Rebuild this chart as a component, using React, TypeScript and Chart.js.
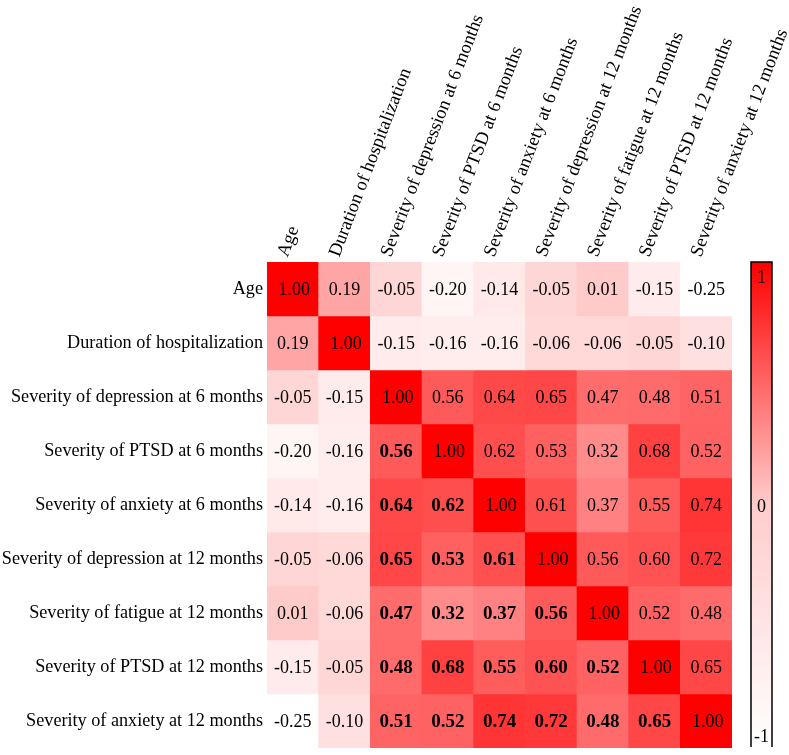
import React, { useEffect, useRef } from "react";
import { Chart, registerables } from "chart.js";

Chart.register(...registerables);

const variables = [
  "Age",
  "Duration of hospitalization",
  "Severity of depression at 6 months",
  "Severity of PTSD at 6 months",
  "Severity of anxiety at 6 months",
  "Severity of depression at 12 months",
  "Severity of fatigue at 12 months",
  "Severity of PTSD at 12 months",
  "Severity of anxiety at 12 months",
];

const rowAge = [1.0, 0.19, -0.05, -0.2, -0.14, -0.05, 0.01, -0.15, -0.25];
const rowDuration = [0.19, 1.0, -0.15, -0.16, -0.16, -0.06, -0.06, -0.05, -0.1];
const rowDep6 = [-0.05, -0.15, 1.0, 0.56, 0.64, 0.65, 0.47, 0.48, 0.51];
const rowPtsd6 = [-0.2, -0.16, 0.56, 1.0, 0.62, 0.53, 0.32, 0.68, 0.52];
const rowAnx6 = [-0.14, -0.16, 0.64, 0.62, 1.0, 0.61, 0.37, 0.55, 0.74];
const rowDep12 = [-0.05, -0.06, 0.65, 0.53, 0.61, 1.0, 0.56, 0.6, 0.72];
const rowFat12 = [0.01, -0.06, 0.47, 0.32, 0.37, 0.56, 1.0, 0.52, 0.48];
const rowPtsd12 = [-0.15, -0.05, 0.48, 0.68, 0.55, 0.6, 0.52, 1.0, 0.65];
const rowAnx12 = [-0.25, -0.1, 0.51, 0.52, 0.74, 0.72, 0.48, 0.65, 1.0];

const matrix = [rowAge, rowDuration, rowDep6, rowPtsd6, rowAnx6, rowDep12, rowFat12, rowPtsd12, rowAnx12];

// 1 = value printed in bold (significant)
const boldAge = [0, 0, 0, 0, 0, 0, 0, 0, 0];
const boldDuration = [0, 0, 0, 0, 0, 0, 0, 0, 0];
const boldDep6 = [0, 0, 0, 0, 0, 0, 0, 0, 0];
const boldPtsd6 = [0, 0, 1, 0, 0, 0, 0, 0, 0];
const boldAnx6 = [0, 0, 1, 1, 0, 0, 0, 0, 0];
const boldDep12 = [0, 0, 1, 1, 1, 0, 0, 0, 0];
const boldFat12 = [0, 0, 1, 1, 1, 1, 0, 0, 0];
const boldPtsd12 = [0, 0, 1, 1, 1, 1, 1, 0, 0];
const boldAnx12 = [0, 0, 1, 1, 1, 1, 1, 1, 0];
const boldMatrix = [boldAge, boldDuration, boldDep6, boldPtsd6, boldAnx6, boldDep12, boldFat12, boldPtsd12, boldAnx12];

const colorMin = -0.25;
const colorMax = 1;
const colorbarTicks = [1, 0, -1];

const FONT = '"Liberation Serif", "Times New Roman", serif';

function cellColor(v: number) {
  let t = (v - colorMin) / (colorMax - colorMin);
  t = Math.max(0, Math.min(1, t));
  const c = Math.round(255 * (1 - t));
  return `rgb(255,${c},${c})`;
}

const cellTextPlugin = {
  id: "cellText",
  afterDatasetsDraw(chart: any) {
    const ctx = chart.ctx;
    ctx.save();
    ctx.textAlign = "center";
    ctx.textBaseline = "middle";
    ctx.fillStyle = "#000";
    matrix.forEach((row, r) => {
      const meta = chart.getDatasetMeta(r);
      row.forEach((v, c) => {
        const el = meta.data[c];
        const p = el.getProps(["x", "y", "base"], true);
        const y = (p.y + p.base) / 2;
        const b = boldMatrix[r][c];
        ctx.font = `${b ? "bold 19px" : "18px"} ${FONT}`;
        ctx.fillText(v.toFixed(2), p.x + (r === c ? 1.5 : 0), y + 1);
      });
    });
    ctx.restore();
  },
};

const colorbarPlugin = {
  id: "colorbar",
  afterDraw(chart: any) {
    const ctx = chart.ctx;
    const area = chart.chartArea;
    const left = area.right + 19;
    const width = 21;
    const top = area.top;
    const bottom = area.bottom - 1;
    const h = bottom - top;
    ctx.save();
    const grad = ctx.createLinearGradient(0, top, 0, bottom);
    grad.addColorStop(0, cellColor(colorbarTicks[0]));
    grad.addColorStop(0.5, cellColor(colorbarTicks[1]));
    grad.addColorStop(1, "rgb(255,255,255)");
    ctx.fillStyle = grad;
    ctx.fillRect(left, top, width, h);
    ctx.strokeStyle = "#000";
    ctx.lineWidth = 1.5;
    ctx.beginPath();
    ctx.moveTo(left, bottom);
    ctx.lineTo(left, top);
    ctx.lineTo(left + width, top);
    ctx.lineTo(left + width, bottom);
    ctx.stroke();
    ctx.fillStyle = "#000";
    ctx.font = `18px ${FONT}`;
    ctx.textAlign = "center";
    ctx.textBaseline = "middle";
    const vmax = colorbarTicks[0];
    const vmin = colorbarTicks[colorbarTicks.length - 1];
    colorbarTicks.forEach((v) => {
      const y = top + 16 + ((vmax - v) / (vmax - vmin)) * (h - 26);
      ctx.fillText(String(v), left + width / 2, y);
    });
    ctx.restore();
  },
};

export default function App() {
  const ref = useRef<HTMLCanvasElement | null>(null);

  useEffect(() => {
    if (!ref.current) return;
    Chart.defaults.font.family = FONT;
    const datasets = matrix.map((row, r) => ({
      label: variables[r],
      data: row.map(() => [r - 0.5, r + 0.5]),
      backgroundColor: row.map(cellColor),
      borderWidth: 0,
      barPercentage: 1,
      categoryPercentage: 1,
      stack: "grid",
    }));
    const chart = new Chart(ref.current, {
      type: "bar",
      data: { labels: variables, datasets: datasets as any },
      options: {
        responsive: false,
        animation: false,
        layout: { padding: { top: 0, left: 0, right: 57, bottom: 7 } },
        plugins: { legend: { display: false }, tooltip: { enabled: false } },
        scales: {
          x: {
            type: "category",
            position: "top",
            stacked: true,
            grid: { display: false, drawTicks: false },
            border: { display: false },
            ticks: {
              autoSkip: false,
              minRotation: 69,
              maxRotation: 69,
              padding: 2,
              labelOffset: 11,
              color: "#000",
              font: { family: FONT, size: 18.6 },
            },
            afterFit: (s: any) => {
              s.height = 262;
              s.paddingLeft = 0;
              s.paddingRight = 0;
            },
          },
          y: {
            type: "linear",
            reverse: true,
            stacked: false,
            min: -0.5,
            max: 8.5,
            grid: { display: false, drawTicks: false },
            border: { display: false },
            afterBuildTicks: (s: any) => {
              s.ticks = variables.map((_, i) => ({ value: i }));
            },
            ticks: {
              autoSkip: false,
              padding: 4,
              color: "#000",
              font: { family: FONT, size: 18.2 },
              callback: (v: any) => variables[Number(v)],
            },
            afterFit: (s: any) => {
              s.width = 267;
              s.paddingTop = 0;
              s.paddingBottom = 0;
            },
          },
        },
      },
      plugins: [cellTextPlugin, colorbarPlugin],
    });
    return () => chart.destroy();
  }, []);

  return (
    <div style={{ position: "absolute", left: 0, top: 0, width: 789, height: 755, background: "#fff" }}>
      <canvas ref={ref} width={789} height={755} />
    </div>
  );
}
